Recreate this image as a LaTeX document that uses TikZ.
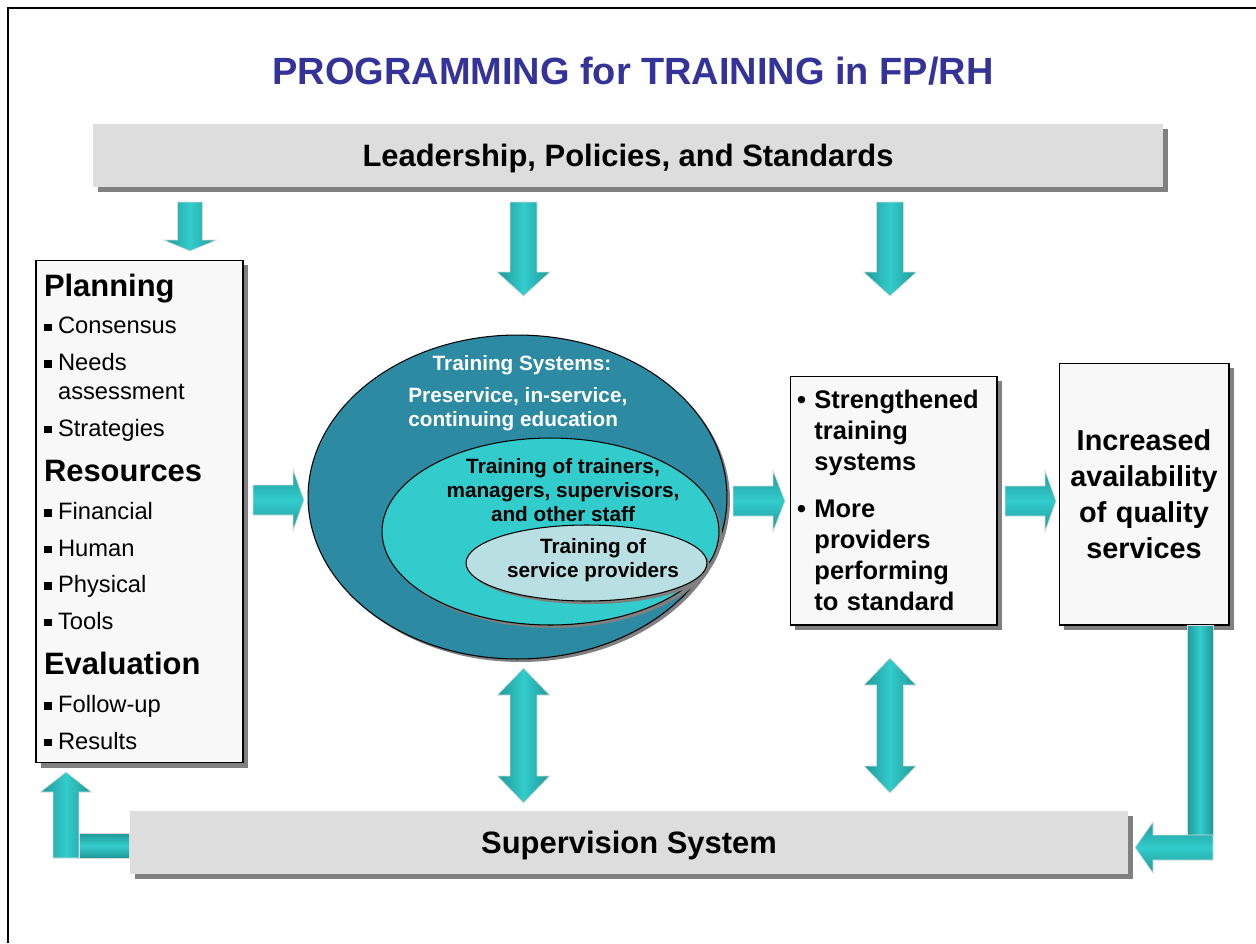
\documentclass[tikz,border=0pt]{standalone}
\usepackage{fontspec}
\setmainfont{Liberation Sans}
\usepackage{tikz}
\usetikzlibrary{shapes.geometric, shadows, calc}

\definecolor{albastrutitlu}{HTML}{333399}
\definecolor{gribara}{HTML}{DDDDDD}
\definecolor{griumbra}{HTML}{808080}
\definecolor{albcutie}{HTML}{F8F8F8}
\definecolor{tealinchis}{HTML}{2C8AA3}
\definecolor{tealmij}{HTML}{33CCCC}
\definecolor{tealmargine}{HTML}{1F9999}
\definecolor{tealdeschis}{HTML}{B8DFE1}

% Marcaj patrat pentru liste.
\newcommand\patrat{\makebox[8pt][l]{\rule[1.6pt]{4.3pt}{4.3pt}}}

% Sageata groasa: stil, de la, la, semilatime corp, semilatime varf, lungime varf.
\newcommand\sageata[6]{%
    \coordinate (vb) at ($(#3)!#6!(#2)$);
    \path[#1] ($(#2)!#4!90:(#3)$) -- ($(vb)!#4!90:(#3)$) -- ($(vb)!#5!90:(#3)$) -- (#3)
        -- ($(vb)!#5!-90:(#3)$) -- ($(vb)!#4!-90:(#3)$) -- ($(#2)!#4!-90:(#3)$) -- cycle;
}

% Sageata groasa cu doua varfuri.
\newcommand\sageatadubla[6]{%
    \coordinate (va) at ($(#2)!#6!(#3)$);
    \coordinate (vb) at ($(#3)!#6!(#2)$);
    \path[#1] (#2) -- ($(va)!#5!90:(#3)$) -- ($(va)!#4!90:(#3)$) -- ($(vb)!#4!90:(#3)$)
        -- ($(vb)!#5!90:(#3)$) -- (#3) -- ($(vb)!#5!-90:(#3)$) -- ($(vb)!#4!-90:(#3)$)
        -- ($(va)!#4!-90:(#3)$) -- ($(va)!#5!-90:(#3)$) -- cycle;
}

\begin{document}
\begin{tikzpicture}[x=0.02cm, y=-0.02cm]
        \tikzstyle{umbra}      = [drop shadow={shadow xshift=0.1cm, shadow yshift=-0.1cm, opacity=1, fill=griumbra}]
        \tikzstyle{bara}       = [rectangle, fill=gribara, umbra, minimum height=1.26cm, inner sep=0pt, text height=12.6pt, text depth=0pt, font=\fontsize{17.6}{21}\selectfont\bfseries]
        \tikzstyle{cutie}      = [rectangle, draw=black, line width=0.6pt, fill=albcutie, umbra, inner sep=0pt]
        \tikzstyle{elipsa}     = [ellipse, draw=black, line width=0.6pt, inner sep=0pt, drop shadow={shadow xshift=0.06cm, shadow yshift=-0.06cm, opacity=1, fill=griumbra}]
        \tikzstyle{textelipsa} = [font=\fontsize{11.8}{13.7}\selectfont\bfseries, inner sep=0pt]
        \tikzstyle{sageatav}   = [draw=black!15, line width=0.4pt, left color=tealmargine, right color=tealmargine, middle color=tealmij]
        \tikzstyle{sageatao}   = [draw=black!15, line width=0.4pt, top color=tealmargine, bottom color=tealmargine, middle color=tealmij]

        \useasboundingbox (0,0) rectangle (1256,943);
        \draw[line width=1.3pt] (8,943) |- (1256,8);

        \node[font=\fontsize{21.6}{26}\selectfont\bfseries, text=albastrutitlu] (titlu) at (633,71) {PROGRAMMING for TRAINING in FP/RH};

        \node[bara, minimum width=21.4cm] (conducere) at (628,155.5) {Leadership, Policies, and Standards};
        \node[bara, minimum width=19.96cm] (supervizare) at (629,842) {Supervision System};

        \node[cutie, minimum width=4.14cm, minimum height=10.06cm, text width=3.82cm, inner xsep=0.16cm, align=left,
              font=\fontsize{13.5}{16.5}\selectfont] (planificare) at (139.5,511.5) {%
            {\fontsize{17.6}{16.5}\selectfont\bfseries Planning}\\[5.1pt]
            \patrat Consensus\\[4.3pt]
            \patrat Needs\\
            \hspace*{8pt}assessment\\[4.3pt]
            \patrat Strategies\\[9.4pt]
            {\fontsize{17.6}{16.5}\selectfont\bfseries Resources}\\[5.1pt]
            \patrat Financial\\[4.3pt]
            \patrat Human\\[4.3pt]
            \patrat Physical\\[4.3pt]
            \patrat Tools\\[9.4pt]
            {\fontsize{17.6}{16.5}\selectfont\bfseries Evaluation}\\[5.1pt]
            \patrat Follow-up\\[4.3pt]
            \patrat Results};

        % Elipsele sistemului de instruire.
        \node[elipsa, fill=tealinchis, minimum width=8.38cm, minimum height=6.48cm] (sistem) at (517.5,497) {};
        \node[elipsa, fill=tealmij, minimum width=6.74cm, minimum height=3.74cm] (formatori) at (550.5,531.5) {};
        \node[elipsa, fill=tealdeschis, minimum width=4.82cm, minimum height=1.52cm] (furnizori) at (586.5,563) {};
        \node[textelipsa, text=white] (tsistem) at (522,365) {Training Systems:};
        \node[textelipsa, text=white, align=left, anchor=west] (tforme) at (408,409) {Preservice, in-service,\\continuing education};
        \node[textelipsa, align=center] (tformatori) at (563,490) {Training of trainers,\\managers, supervisors,\\and other staff};
        \node[textelipsa, align=center] (tfurnizori) at (593,560.5) {Training of\\service providers};

        \node[cutie, minimum width=4.14cm, minimum height=4.98cm, text width=3.86cm, inner xsep=0.14cm, align=left,
              font=\fontsize{14.5}{17.6}\selectfont\bfseries] (rezultate) at (893.5,500.5) {%
            \textbullet\ Strengthened\\
            \phantom{\textbullet}\ training\\
            \phantom{\textbullet}\ systems\\[9.1pt]
            \textbullet\ More\\
            \phantom{\textbullet}\ providers\\
            \phantom{\textbullet}\ performing\\
            \phantom{\textbullet}\ to standard};

        \node[cutie, minimum width=3.4cm, minimum height=5.24cm, text width=3.3cm, align=center,
              font=\fontsize{16.4}{20.5}\selectfont\bfseries] (servicii) at (1144,494) {Increased\\availability\\of quality\\services};

        % Capetele sagetilor.
        \coordinate (j1a) at (190,202);   \coordinate (j1b) at (190,251);
        \coordinate (j2a) at (523.5,202); \coordinate (j2b) at (523.5,296);
        \coordinate (j3a) at (890,202);   \coordinate (j3b) at (890,296);
        \coordinate (d1a) at (253,500);   \coordinate (d1b) at (304,500);
        \coordinate (d2a) at (733,501);   \coordinate (d2b) at (785,501);
        \coordinate (d3a) at (1005,501);  \coordinate (d3b) at (1056,501);
        \coordinate (b1a) at (523.5,668); \coordinate (b1b) at (523.5,803);
        \coordinate (b2a) at (890,658);   \coordinate (b2b) at (890,793);
        \coordinate (ia) at (1213,847.5); \coordinate (ib) at (1135,847.5);
        \coordinate (ea) at (66,858);     \coordinate (eb) at (66,772);

        % Desenarea sagetilor.
        \sageata{sageatav}{j1a}{j1b}{0.25cm}{0.53cm}{0.22cm}
        \sageata{sageatav}{j2a}{j2b}{0.27cm}{0.53cm}{0.48cm}
        \sageata{sageatav}{j3a}{j3b}{0.27cm}{0.53cm}{0.48cm}
        \sageata{sageatao}{d1a}{d1b}{0.3cm}{0.61cm}{0.22cm}
        \sageata{sageatao}{d2a}{d2b}{0.3cm}{0.61cm}{0.24cm}
        \sageata{sageatao}{d3a}{d3b}{0.3cm}{0.61cm}{0.22cm}
        \sageatadubla{sageatav}{b1a}{b1b}{0.27cm}{0.52cm}{0.54cm}
        \sageatadubla{sageatav}{b2a}{b2b}{0.27cm}{0.52cm}{0.54cm}
        \path[sageatav] (servicii.south -| 1187,0) rectangle (1213,835);
        \sageata{sageatao}{ia}{ib}{0.25cm}{0.51cm}{0.36cm}
        \path[sageatao] (79,833) rectangle (supervizare.west |- 0,858);
        \sageata{sageatav}{ea}{eb}{0.26cm}{0.51cm}{0.4cm}
\end{tikzpicture}
\end{document}
